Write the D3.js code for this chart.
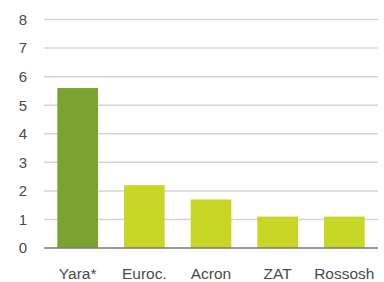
<!DOCTYPE html>
<html>
<head>
<meta charset="utf-8">
<script src="https://cdn.jsdelivr.net/npm/d3@7"></script>
<style>
  body { margin: 0; background: #fff; }
  text { font-family: "Liberation Sans", Arial, sans-serif; fill: #4a4a4a; }
</style>
</head>
<body>
<svg id="chart" width="384" height="282"></svg>
<script>
// data
var companies = ["Yara*", "Euroc.", "Acron", "ZAT", "Rossosh"];
var values = [5.6, 2.2, 1.7, 1.1, 1.1];
var barColors = ["#7aa22e", "#c8d626", "#c8d626", "#c8d626", "#c8d626"];
var yTicks = [0, 1, 2, 3, 4, 5, 6, 7, 8];

var svg = d3.select("#chart");
// note: "top" is taken by window.top, so use other names
var plotLeft = 44, plotRight = 378, plotTop = 19.5, plotBottom = 248;

var x = d3.scaleBand()
  .domain(companies)
  .range([plotLeft, plotRight])
  .paddingInner(0.39)
  .paddingOuter(0.2);

var y = d3.scaleLinear()
  .domain([0, 8])
  .range([plotBottom, plotTop]);

// grid lines
svg.append("g")
  .selectAll("line")
  .data(yTicks.filter(function(d) { return d > 0; }))
  .enter().append("line")
  .attr("x1", plotLeft).attr("x2", plotRight)
  .attr("y1", function(d) { return y(d); })
  .attr("y2", function(d) { return y(d); })
  .attr("stroke", "#d4d4d4")
  .attr("stroke-width", 1.5);

// bars
svg.append("g")
  .selectAll("rect")
  .data(values)
  .enter().append("rect")
  .attr("x", function(d, i) { return x(companies[i]); })
  .attr("width", x.bandwidth())
  .attr("y", function(d) { return y(d); })
  .attr("height", function(d) { return y(0) - y(d); })
  .attr("fill", function(d, i) { return barColors[i]; });

// baseline
svg.append("line")
  .attr("x1", plotLeft).attr("x2", plotRight)
  .attr("y1", y(0)).attr("y2", y(0))
  .attr("stroke", "#7a7a7a")
  .attr("stroke-width", 1.5);

// y tick labels
svg.append("g")
  .selectAll("text")
  .data(yTicks)
  .enter().append("text")
  .attr("x", 27)
  .attr("y", function(d) { return y(d); })
  .attr("dy", "0.36em")
  .attr("text-anchor", "end")
  .attr("font-size", 15)
  .text(function(d) { return d; });

// category labels
svg.append("g")
  .selectAll("text")
  .data(companies)
  .enter().append("text")
  .attr("x", function(d) { return x(d) + x.bandwidth() / 2; })
  .attr("y", 279)
  .attr("text-anchor", "middle")
  .attr("font-size", 15.5)
  .text(function(d) { return d; });
</script>
</body>
</html>
